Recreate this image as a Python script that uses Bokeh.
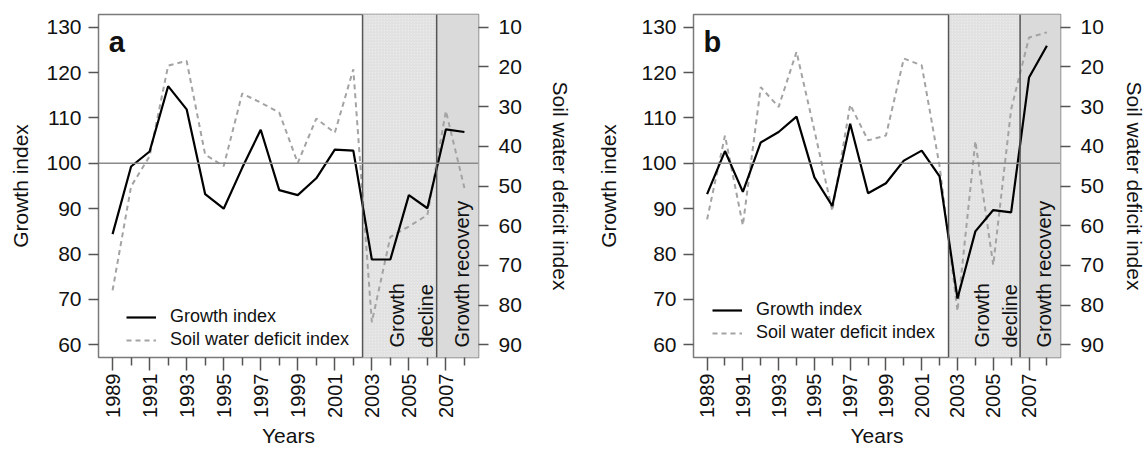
from math import pi
from bokeh.plotting import figure
from bokeh.models import (Range1d, LinearAxis, FixedTicker, Span, Label,
                          Legend, LegendItem)
from bokeh.layouts import row
from bokeh.embed import file_html
from bokeh.resources import INLINE

# ---------------- data ----------------
years = list(range(1989, 2009))
growth_a = [84.4, 99.3, 102.6, 117.0, 111.9, 93.2, 90.0, 99.0, 107.4, 94.1,
            93.0, 96.7, 103.0, 102.8, 78.8, 78.8, 93.0, 90.1, 107.5, 106.9]
swdi_a = [76.3, 50.1, 42.5, 19.7, 18.5, 42.1, 45.0, 26.7, 29.0, 31.5,
          44.2, 33.0, 36.6, 20.6, 84.3, 62.8, 60.2, 57.3, 31.1, 50.5]
growth_b = [93.2, 102.7, 93.7, 104.6, 106.9, 110.3, 96.9, 90.6, 108.7, 93.4,
            95.6, 100.6, 102.8, 97.1, 70.2, 85.0, 89.7, 89.2, 118.9, 125.9]
swdi_b = [58.4, 37.3, 59.9, 25.1, 30.1, 16.2, 36.0, 56.3, 29.5, 38.5,
          37.3, 17.9, 19.6, 45.0, 81.5, 38.7, 69.9, 30.7, 12.6, 11.3]

growth_ticks = [60, 70, 80, 90, 100, 110, 120, 130]
swdi_ticks = [10, 20, 30, 40, 50, 60, 70, 80, 90]
year_ticks = list(range(1989, 2008, 2))
year_minor = list(range(1990, 2009, 2))
decline_period = [2002.5, 2006.5]
recovery_period = [2006.5, 2012.0]
reference_level = 100

FONT = "Liberation Sans"
TXT = "#111111"


def make_panel(growth, swdi, letter, width, bl, br, legend_loc,
               ylab_standoff, rlab_standoff):
    x0, x1 = 1988.24, 2008.76
    y0, y1 = 57.2, 132.8
    p = figure(width=width, height=450, output_backend="svg",
               toolbar_location=None,
               x_range=Range1d(x0, x1), y_range=Range1d(y0, y1),
               min_border_left=bl, min_border_right=br,
               min_border_top=14, min_border_bottom=93)
    p.extra_y_ranges = {"swdi": Range1d(start=93.2, end=6.8)}
    p.grid.visible = False
    p.outline_line_color = "#7a7a7a"
    p.outline_line_width = 1.5
    p.background_fill_color = "white"
    p.border_fill_color = "white"

    # shaded periods
    p.quad(left=[decline_period[0]], right=[decline_period[1]],
           bottom=[y0 - 5], top=[y1 + 5], fill_color="#ebebeb",
           line_color=None, hatch_pattern="/", hatch_color="#d4d4d4",
           hatch_scale=3, hatch_weight=0.6)
    p.quad(left=[recovery_period[0]], right=[recovery_period[1]],
           bottom=[y0 - 5], top=[y1 + 5], fill_color="#dadada",
           line_color=None)

    r_sw = p.line(years, swdi, y_range_name="swdi", line_color="#a3a3a3",
                  line_width=2.0, line_dash="5 4")
    r_gr = p.line(years, growth, line_color="black", line_width=2.2)

    for loc in decline_period:
        p.add_layout(Span(location=loc, dimension="height",
                          line_color="#555555", line_width=1.5))
    p.add_layout(Span(location=reference_level, dimension="width",
                      line_color="#8a8a8a", line_width=1.5))

    # axes styling
    xa = p.xaxis[0]
    xa.ticker = FixedTicker(ticks=year_ticks, minor_ticks=year_minor)
    xa.major_label_orientation = pi / 2
    xa.axis_label = "Years"
    xa.major_tick_out = 13
    xa.minor_tick_out = 8
    xa.major_label_standoff = 3
    xa.axis_label_standoff = 3
    xa.major_label_text_font_size = "20px"

    ya = p.yaxis[0]
    ya.ticker = FixedTicker(ticks=growth_ticks)
    ya.axis_label = "Growth index"
    ya.major_tick_out = 10
    ya.major_label_standoff = 7
    ya.axis_label_standoff = ylab_standoff
    ya.major_label_text_font_size = "21px"

    ra = LinearAxis(y_range_name="swdi", axis_label="Soil water deficit index",
                    ticker=FixedTicker(ticks=swdi_ticks))
    ra.major_tick_out = 10
    ra.major_label_standoff = 10
    ra.axis_label_standoff = rlab_standoff
    ra.major_label_text_font_size = "21px"
    p.add_layout(ra, "right")

    for ax in [xa, ya, ra]:
        ax.axis_line_color = None
        ax.major_tick_in = 0
        ax.minor_tick_in = 0
        ax.major_tick_line_color = "#555555"
        ax.minor_tick_line_color = "#555555"
        ax.major_tick_line_width = 1.5
        ax.minor_tick_line_width = 1.5
        ax.major_label_text_font = FONT
        ax.major_label_text_color = TXT
        ax.axis_label_text_font = FONT
        ax.axis_label_text_font_size = "21px"
        ax.axis_label_text_font_style = "normal"
        ax.axis_label_text_color = TXT
    ya.minor_tick_line_color = None

    # panel letter
    p.add_layout(Label(x=1988.8, y=126.7, text=letter, text_font=FONT,
                       text_font_size="29px", text_font_style="bold",
                       text_color=TXT, text_align="left",
                       text_baseline="alphabetic"))
    # period labels
    for xt, t in [(decline_period[0] + 1.85, "Growth"),
                  (decline_period[0] + 3.45, "decline"),
                  (recovery_period[0] + 1.35, "Growth recovery")]:
        p.add_layout(Label(x=xt, y=59.4, text=t, angle=pi / 2,
                           text_font=FONT, text_font_size="20px",
                           text_color=TXT, text_align="left",
                           text_baseline="middle"))

    legend = Legend(items=[LegendItem(label="Growth index", renderers=[r_gr]),
                           LegendItem(label="Soil water deficit index",
                                      renderers=[r_sw])],
                    location=legend_loc, orientation="vertical")
    legend.label_text_font = FONT
    legend.label_text_font_size = "18px"
    legend.label_text_color = TXT
    legend.glyph_width = 30
    legend.glyph_height = 20
    legend.label_standoff = 14
    legend.spacing = 2
    legend.padding = 0
    legend.margin = 0
    legend.border_line_color = None
    legend.background_fill_alpha = 0
    p.add_layout(legend)
    return p


pa = make_panel(growth_a, swdi_a, "a", 580, 98, 102, (28, 7), 11, 24)
pb = make_panel(growth_b, swdi_b, "b", 568, 113, 87, (19, 14), 18, 16)

layout = row(pa, pb)
open("out.html", "w").write(file_html(layout, INLINE))
